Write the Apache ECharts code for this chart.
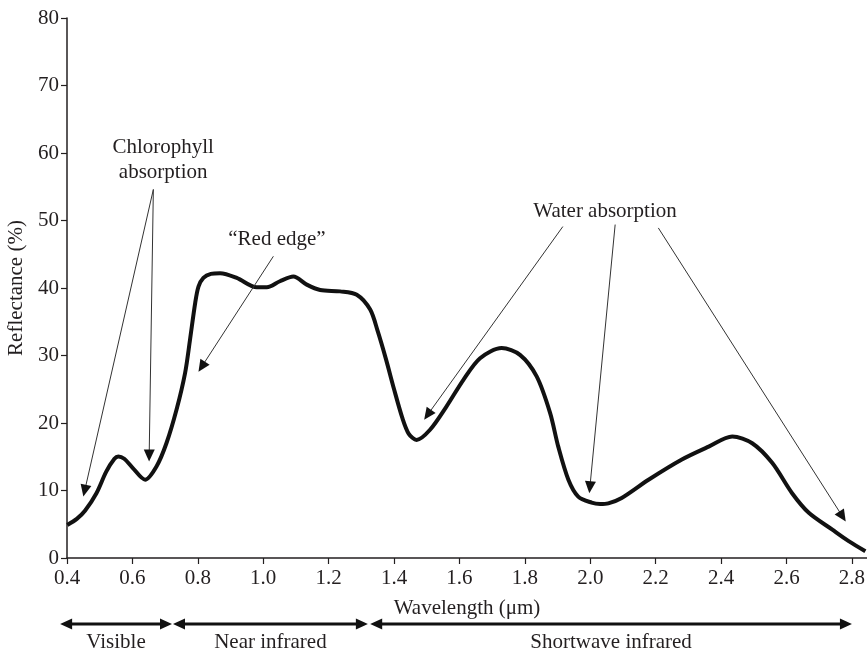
<!DOCTYPE html>
<html><head><meta charset="utf-8">
<script src="https://cdn.jsdelivr.net/npm/echarts/dist/echarts.min.js"></script>
<style>html,body{margin:0;padding:0;background:#fff}#c{width:867px;height:652px}</style>
</head><body><div id="c"></div><script>
// Spectral reflectance curve
const wavelength = [0.401,0.43,0.455,0.49,0.52,0.545,0.557,0.575,0.60,0.639,0.674,0.704,0.735,0.761,0.776,0.792,0.802,0.817,0.840,0.868,0.919,0.98,1.011,1.051,1.092,1.133,1.174,1.235,1.286,1.327,1.35,1.375,1.40,1.425,1.445,1.469,1.51,1.561,1.612,1.663,1.729,1.785,1.836,1.877,1.902,1.933,1.963,2.004,2.03,2.055,2.096,2.178,2.28,2.362,2.434,2.495,2.556,2.617,2.668,2.74,2.79,2.841];
const reflectance = [4.9,5.8,7.0,9.6,12.8,14.7,15.05,14.7,13.4,11.6,13.6,17.0,22.0,27.4,32.3,37.8,40.2,41.5,42.1,42.2,41.5,40.1,40.1,41.0,41.7,40.5,39.7,39.5,39.0,36.8,33.6,29.5,25.0,20.8,18.4,17.5,19.0,22.5,26.4,29.6,31.1,30.1,26.9,21.5,16.5,11.6,9.1,8.2,8.0,8.1,8.9,11.6,14.6,16.5,18.0,17.0,14.1,9.6,6.7,4.2,2.5,1.0];

// Axis settings
const xMin = 0.4, xMax = 2.846, xStep = 0.2;
const yMin = 0, yMax = 80, yStep = 10;
const xTitle = 'Wavelength (μm)';
const yTitle = 'Reflectance (%)';

// Annotations: label text, label position (data), arrows [start, tip] (data)
const annoLabels = ['Chlorophyll\nabsorption', '“Red edge”', 'Water absorption'];
const annoLabelPos = [[0.694, 59.0], [1.042, 47.2], [2.045, 51.3]];
const annoArrows = [
  [[0.664, 54.6], [0.450, 9.1]],
  [[0.664, 54.6], [0.651, 14.3]],
  [[1.031, 44.7], [0.802, 27.6]],
  [[1.916, 49.1], [1.492, 20.5]],
  [[2.076, 49.4], [1.997, 9.6]],
  [[2.208, 48.9], [2.781, 5.4]]
];

// Spectral regions under the axis
const regionNames = ['Visible', 'Near infrared', 'Shortwave infrared'];
const regionStart = [0.379, 0.724, 1.327];
const regionEnd = [0.721, 1.320, 2.800];

const FONT = "'Liberation Serif', 'DejaVu Serif', serif";
const INK = '#231f20';
const chart = echarts.init(document.getElementById('c'), null, {renderer: 'canvas'});

chart.setOption({
  animation: false,
  backgroundColor: '#fff',
  grid: {left: 67, right: 0, top: 18, bottom: 94, containLabel: false, outerBoundsMode: 'none'},
  xAxis: {
    type: 'value', min: xMin, max: xMax, interval: xStep,
    name: xTitle, nameLocation: 'middle', nameGap: 40,
    nameTextStyle: {fontFamily: FONT, fontSize: 21, color: INK},
    axisLine: {lineStyle: {color: INK, width: 1.5}},
    axisTick: {length: 6, lineStyle: {color: INK, width: 1.2}},
    axisLabel: {fontFamily: FONT, fontSize: 21, color: INK, margin: 10, showMaxLabel: false,
      formatter: v => v.toFixed(1)},
    splitLine: {show: false}
  },
  yAxis: {
    type: 'value', min: yMin, max: yMax, interval: yStep,
    name: yTitle, nameLocation: 'middle', nameGap: 40, nameRotate: 90,
    nameTextStyle: {fontFamily: FONT, fontSize: 21, color: INK},
    axisLine: {show: true, lineStyle: {color: INK, width: 1.5}},
    axisTick: {show: true, length: 6, lineStyle: {color: INK, width: 1.2}},
    axisLabel: {fontFamily: FONT, fontSize: 21, color: INK, margin: 8},
    splitLine: {show: false}
  },
  series: [{
    type: 'line',
    data: wavelength.map((w, i) => [w, reflectance[i]]),
    smooth: 0.3,
    showSymbol: false,
    lineStyle: {color: '#111', width: 4},
    clip: false
  }]
});

function arrowHead(tip, from, len, half, color) {
  const dx = tip[0] - from[0], dy = tip[1] - from[1];
  const d = Math.hypot(dx, dy), ux = dx / d, uy = dy / d;
  const bx = tip[0] - ux * len, by = tip[1] - uy * len;
  return {type: 'polygon', shape: {points: [tip, [bx - uy * half, by + ux * half], [bx + uy * half, by - ux * half]]},
    style: {fill: color}, silent: true, z: 10};
}

const toPx = p => chart.convertToPixel({gridIndex: 0}, p);
const g = [];
annoArrows.forEach(([s, t]) => {
  const a = toPx(s), b = toPx(t);
  const dx = b[0] - a[0], dy = b[1] - a[1], d = Math.hypot(dx, dy);
  const end = [b[0] - dx / d * 10, b[1] - dy / d * 10];
  g.push({type: 'line', shape: {x1: a[0], y1: a[1], x2: end[0], y2: end[1]}, style: {stroke: '#333', lineWidth: 1}, silent: true, z: 10});
  g.push(arrowHead(b, a, 12, 5.5, '#111'));
});
annoLabels.forEach((txt, i) => {
  const p = toPx(annoLabelPos[i]);
  g.push({type: 'text', x: p[0], y: p[1], style: {text: txt, fontFamily: FONT, fontSize: 21, fill: INK,
    align: 'center', verticalAlign: 'middle', lineHeight: 25}, silent: true, z: 10});
});
const baseY = 624;
regionNames.forEach((name, i) => {
  const x1 = toPx([regionStart[i], 0])[0], x2 = toPx([regionEnd[i], 0])[0];
  g.push({type: 'line', shape: {x1: x1 + 8, y1: baseY, x2: x2 - 8, y2: baseY}, style: {stroke: '#111', lineWidth: 3}, silent: true});
  g.push(arrowHead([x1, baseY], [x2, baseY], 12, 5.5, '#111'));
  g.push(arrowHead([x2, baseY], [x1, baseY], 12, 5.5, '#111'));
  g.push({type: 'text', x: (x1 + x2) / 2, y: baseY + 18, style: {text: name, fontFamily: FONT, fontSize: 21, fill: INK,
    align: 'center', verticalAlign: 'middle'}, silent: true});
});
chart.setOption({graphic: {elements: g}});
</script></body></html>
